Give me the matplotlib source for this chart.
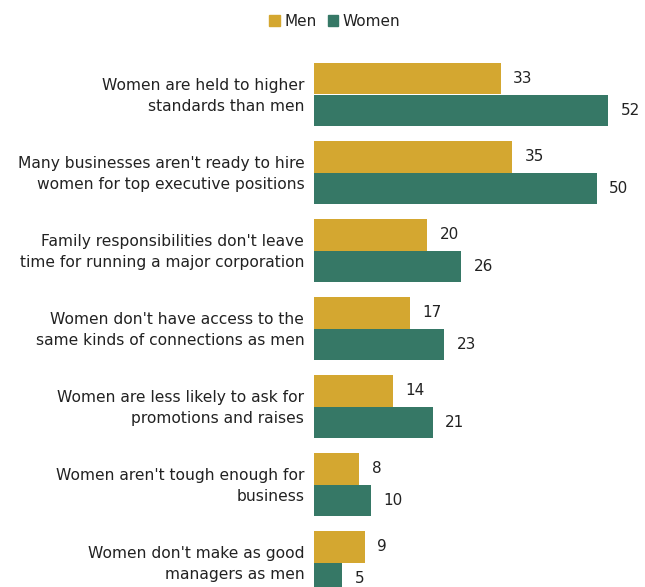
import matplotlib
matplotlib.use("Agg")
import matplotlib.pyplot as plt
import numpy as np
from matplotlib.patches import Patch

categories = [
    "Women are held to higher\nstandards than men",
    "Many businesses aren't ready to hire\nwomen for top executive positions",
    "Family responsibilities don't leave\ntime for running a major corporation",
    "Women don't have access to the\nsame kinds of connections as men",
    "Women are less likely to ask for\npromotions and raises",
    "Women aren't tough enough for\nbusiness",
    "Women don't make as good\nmanagers as men",
]
men = [33, 35, 20, 17, 14, 8, 9]
women = [52, 50, 26, 23, 21, 10, 5]
series_names = ["Men", "Women"]
colors = ["#D4A730", "#367866"]

plt.rcParams['font.family'] = ['DejaVu Sans']

W, H = 645, 587
fig = plt.figure(figsize=(W / 100, H / 100), dpi=100)
ax = fig.add_axes([314 / W, 0, 331 / W, (587 - 40) / H])

y = np.arange(len(categories))
h = 0.4
ax.barh(y - h / 2, men, height=h, color=colors[0])
ax.barh(y + h / 2, women, height=h, color=colors[1])

ax.set_xlim(0, 331 / 5.654)
ax.set_ylim((587 - 94.5) / 78, (40 - 94.5) / 78)
ax.axis("off")

tc = "#222222"
for i, (m, w) in enumerate(zip(men, women)):
    ax.annotate(str(m), (m, i - h / 2), xytext=(9, 0), textcoords="offset points",
                va="center", ha="left", fontsize=11, color=tc)
    ax.annotate(str(w), (w, i + h / 2), xytext=(9, 0), textcoords="offset points",
                va="center", ha="left", fontsize=11, color=tc)
    ax.annotate(categories[i], (0, i), xytext=(-7, -1), textcoords="offset points",
                va="center", ha="right", fontsize=11.2, color=tc,
                linespacing=1.55, annotation_clip=False)

handles = [Patch(color=c, label=n) for c, n in zip(colors, series_names)]
fig.legend(handles=handles, loc="center", bbox_to_anchor=(335 / W, 1 - 21 / H),
           ncol=2, frameon=False, fontsize=11, handlelength=0.7, handleheight=0.7,
           handletextpad=0.3, columnspacing=0.7, labelcolor=tc)

fig.savefig("out.png", dpi=100)
